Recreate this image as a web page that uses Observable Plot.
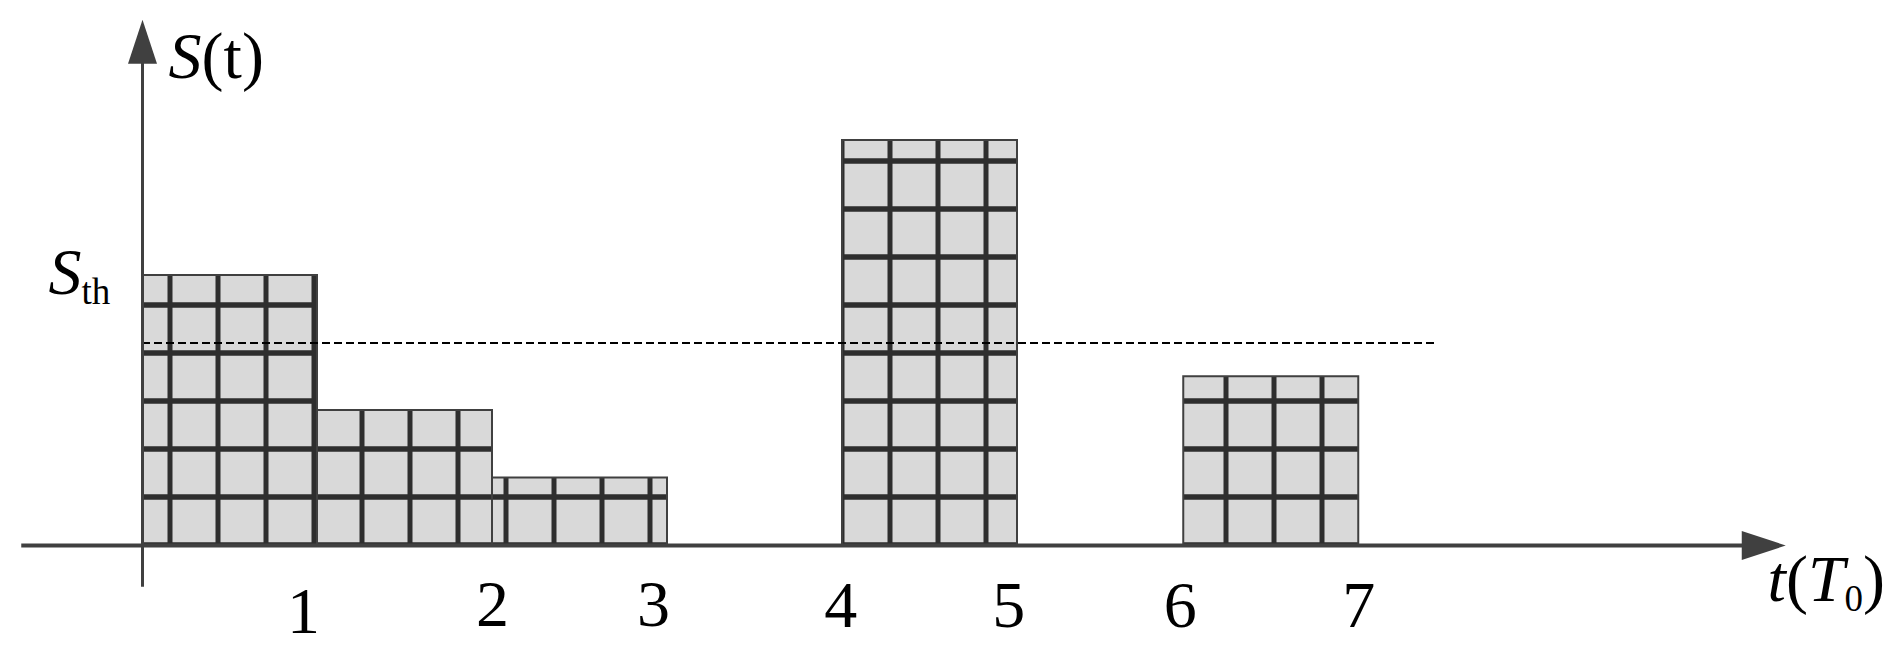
<!DOCTYPE html>
<html><head><meta charset="utf-8">
<script src="https://cdn.jsdelivr.net/npm/d3@7"></script>
<script src="https://cdn.jsdelivr.net/npm/@observablehq/plot@0.6"></script>
<style>html,body{margin:0;padding:0;background:#fff;} svg{display:block;}</style>
</head><body><div id="chart"></div>
<script>
// ---- data ----
const barStart  = [0, 1, 2, 4, 5.95];
const barEnd    = [1, 2, 3, 5, 6.95];
const barHeight = [4, 2, 1, 6, 2.5];
const threshold = 3;
const thresholdEnd = 7.39;
const tickPos    = [0.92, 2.0, 2.92, 3.99, 4.95, 5.93, 6.95];
const tickLabels = ["1", "2", "3", "4", "5", "6", "7"];
const tickY      = [-1.29, -1.19, -1.19, -1.20, -1.20, -1.20, -1.20];
const xAxisStart = -0.69, xAxisEnd = 9.39;
const yAxisStart = -0.62, yAxisEnd = 7.79;
const labelX = [0.149, -0.537, 9.286];
const labelY = [6.92, 3.733, -0.815];
const labelParts = [
  [["S", "i"], ["(t)", ""]],
  [["S", "i"], ["th", "sub"]],
  [["t", "i"], ["(", ""], ["T", "i"], ["0", "sub"], [")", ""]]
];

// ---- styles ----
const axisColor = "#404040";
const font = "'Liberation Serif', 'Times New Roman', serif";
const fontSize = 66, subSize = 37, subShift = 10;
const gridStep = 48, gridPhase = 28;

const arrowRight = {draw(ctx) { ctx.moveTo(0, 0); ctx.lineTo(-44, -14.5); ctx.lineTo(-44, 14.5); ctx.closePath(); }};
const arrowUp = {draw(ctx) { ctx.moveTo(0, 0); ctx.lineTo(-14.5, 44); ctx.lineTo(14.5, 44); ctx.closePath(); }};

function richRender(index, scales, values, dimensions, context, next) {
  const g = next(index, scales, values, dimensions, context);
  d3.select(g).selectAll("text").each(function(_, j) {
    const parts = labelParts[index[j]];
    const t = d3.select(this);
    t.text(null);
    let shifted = 0;
    for (const [s, kind] of parts) {
      const ts = t.append("tspan").text(s);
      if (kind === "i") ts.attr("font-style", "italic");
      if (kind === "sub") { ts.attr("font-size", subSize).attr("dy", subShift - shifted); shifted = subShift; }
      else if (shifted) { ts.attr("dy", -shifted); shifted = 0; }
    }
  });
  return g;
}

const bars = barStart.map((_, i) => i);
const plot = Plot.plot({
  width: 1892, height: 651,
  marginLeft: 19.5, marginRight: 0, marginTop: 5, marginBottom: 106,
  x: {domain: [-0.7, 10], axis: null},
  y: {domain: [0, 8], axis: null},
  style: {background: "white", overflow: "visible"},
  marks: [
    Plot.rect(bars, {x1: i => barStart[i], x2: i => barEnd[i], y1: 0, y2: i => barHeight[i],
      fill: "url(#grid)", stroke: axisColor, strokeWidth: 2}),
    Plot.ruleY([threshold], {x1: 0, x2: thresholdEnd, stroke: "black", strokeWidth: 2, strokeDasharray: "8,4"}),
    Plot.ruleY([0], {x1: xAxisStart, x2: xAxisEnd - 0.19, stroke: axisColor, strokeWidth: 4}),
    Plot.ruleX([0], {y1: yAxisStart, y2: yAxisEnd - 0.49, stroke: axisColor, strokeWidth: 3}),
    Plot.dot([0], {x: () => xAxisEnd, y: () => 0, symbol: arrowRight, fill: axisColor, stroke: "none"}),
    Plot.dot([0], {x: () => 0, y: () => yAxisEnd, symbol: arrowUp, fill: axisColor, stroke: "none"}),
    Plot.text(tickLabels.map((_, i) => i), {x: i => tickPos[i], y: i => tickY[i], text: i => tickLabels[i],
      textAnchor: "middle", lineAnchor: "bottom", fontSize, fontFamily: font, fill: "black"}),
    Plot.text(labelX.map((_, i) => i), {x: i => labelX[i], y: i => labelY[i],
      text: i => labelParts[i].map(p => p[0]).join(""),
      textAnchor: "start", lineAnchor: "bottom", fontSize, fontFamily: font, fill: "black", render: richRender})
  ]
});

// grid pattern anchored to the scales' origin
const x0 = plot.scale("x").apply(0), y0 = plot.scale("y").apply(0);
const defs = d3.select(plot).insert("defs", ":first-child");
const pat = defs.append("pattern").attr("id", "grid").attr("patternUnits", "userSpaceOnUse")
  .attr("x", x0 + gridPhase - gridStep / 2).attr("y", y0 - gridStep / 2)
  .attr("width", gridStep).attr("height", gridStep);
pat.append("rect").attr("width", gridStep).attr("height", gridStep).attr("fill", "#d9d9d9");
pat.append("rect").attr("x", gridStep / 2 - 2.5).attr("y", 0).attr("width", 5).attr("height", gridStep).attr("fill", "#2e2e2e");
pat.append("rect").attr("x", 0).attr("y", gridStep / 2 - 2.75).attr("width", gridStep).attr("height", 5.5).attr("fill", "#2e2e2e");

document.getElementById("chart").append(plot);
</script>
</body></html>
